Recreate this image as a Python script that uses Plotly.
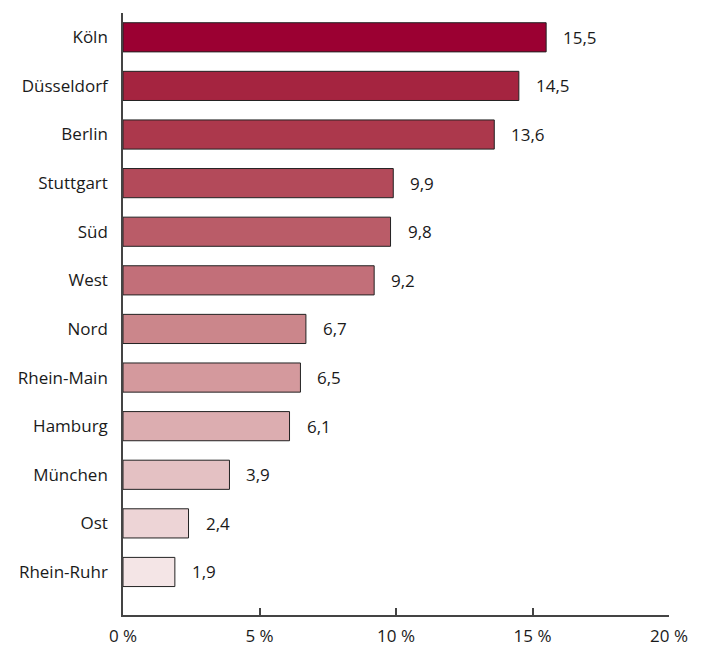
import plotly.graph_objects as go

categories = ["Köln", "Düsseldorf", "Berlin", "Stuttgart", "Süd", "West", "Nord",
              "Rhein-Main", "Hamburg", "München", "Ost", "Rhein-Ruhr"]
values = [15.5, 14.5, 13.6, 9.9, 9.8, 9.2, 6.7, 6.5, 6.1, 3.9, 2.4, 1.9]
colors = ["#9b0032", "#a52440", "#ac384c", "#b34a5a", "#ba5c68", "#c26f79",
          "#cb868b", "#d4999d", "#dcadb0", "#e4c1c3", "#edd4d6", "#f4e5e6"]
tick_vals = [0, 5, 10, 15, 20]
tick_text = ["0 %", "5 %", "10 %", "15 %", "20 %"]

FONT = "Open Sans, Noto Sans, sans-serif"
FS = 17

fig = go.Figure()
fig.add_trace(go.Bar(
    x=values, y=categories, orientation="h",
    marker=dict(color=colors, line=dict(color="#222222", width=1)),
    hoverinfo="skip",
))

for c, v in zip(categories, values):
    fig.add_annotation(x=v, y=c, text=f"{v:.1f}".replace(".", ","),
                       xanchor="left", yanchor="middle", xshift=15,
                       showarrow=False, font=dict(family=FONT, size=FS, color="#1a1a1a"))

# page body has an 8px default margin, so figure is 8px smaller and shifted
fig.update_layout(
    width=695, height=640,
    margin=dict(l=115, r=34, t=5, b=33, autoexpand=False),
    paper_bgcolor="white", plot_bgcolor="white",
    bargap=0.4,
    showlegend=False,
    font=dict(family=FONT, size=FS, color="#1a1a1a"),
    xaxis=dict(range=[0, 20], tickvals=tick_vals, ticktext=tick_text,
               showgrid=False, zeroline=False, showline=True, linecolor="#444444",
               linewidth=1.5, ticks="inside", ticklen=7, tickwidth=1.5, tickcolor="#444444",
               ticklabelstandoff=5, automargin=False,
               tickfont=dict(family=FONT, size=FS, color="#1a1a1a")),
    yaxis=dict(categoryorder="array", categoryarray=categories,
               range=[11.885, -0.5], showgrid=False, zeroline=False,
               showline=True, linecolor="#444444", linewidth=1.5, ticks="",
               ticklabelstandoff=10, automargin=False,
               tickfont=dict(family=FONT, size=FS, color="#1a1a1a")),
)

fig.write_html("out.html")
